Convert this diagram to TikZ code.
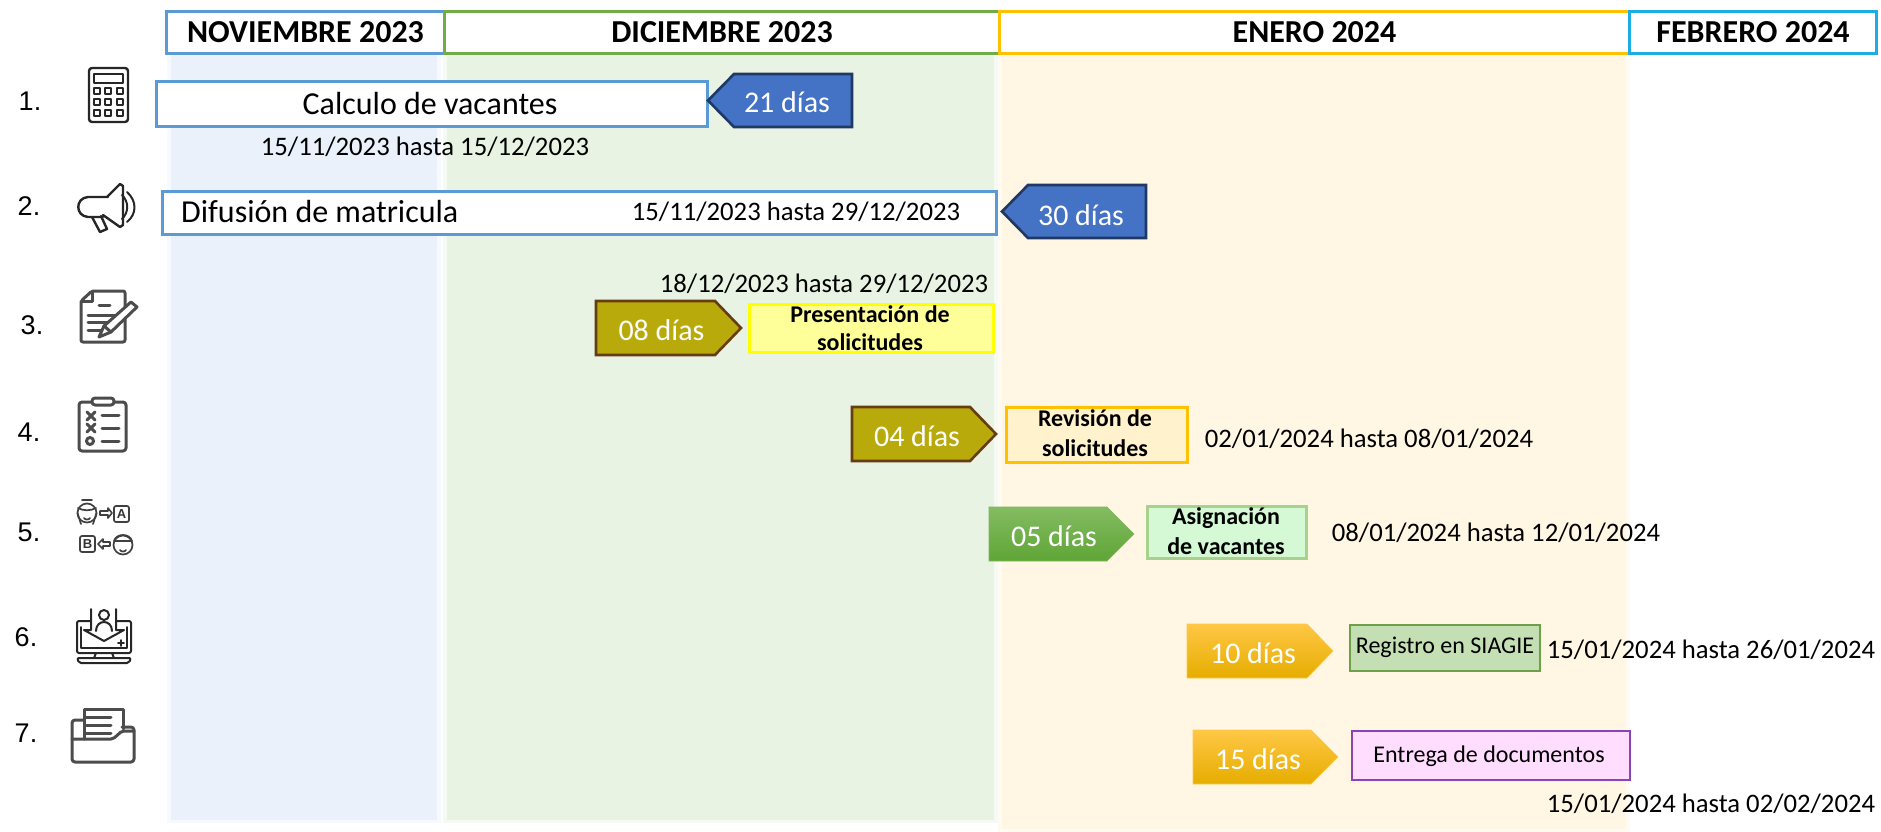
\documentclass[tikz,border=0pt]{standalone}
\usepackage{fontspec}
\setmainfont{Carlito}
\newfontfamily\arialf{Liberation Sans}
\newcommand{\fs}[1]{\fontsize{#1}{#1}\selectfont}
\tikzset{
  hdr/.style={draw=#1,line width=3pt,fill=white,inner sep=0pt,font=\fs{32}\bfseries,text=black},
  datet/.style={font=\fs{26.7},text=black,inner sep=0pt},
  numt/.style={font=\arialf\fs{27},text=black,inner sep=0pt},
  barbox/.style={draw=#1,line width=3pt,fill=white},
  daytxt/.style={font=\fs{30},text=white,inner sep=0pt},
  lbl/.style={font=\fs{24}\bfseries,text=black,align=center,inner sep=0pt},
  lbln/.style={font=\fs{24},text=black,align=center,inner sep=0pt},
  big/.style={font=\fs{32},text=black,inner sep=0pt},
  ic/.style={draw=#1,line width=2.4pt,line join=round,line cap=round},
  ic/.default={black!78},
  olive/.style={fill=olive1,draw=olive2,line width=2.6pt},
  navy/.style={fill=blue1,draw=blue2,line width=2.6pt},
  greeng/.style={top color=green1,bottom color=green2,draw=green2!80,line width=.6pt},
  goldg/.style={top color=gold1,middle color=gold2,bottom color=gold3,draw=gold1,line width=.6pt},
}
\definecolor{nov}{HTML}{5B9BD5}\definecolor{dic}{HTML}{70AD47}
\definecolor{ene}{HTML}{FFC000}\definecolor{feb}{HTML}{1CADE4}
\definecolor{bn}{HTML}{EAF1FA}\definecolor{bd}{HTML}{E8F3E3}\definecolor{be}{HTML}{FFF7E3}
\definecolor{olive1}{HTML}{B8AA0B}\definecolor{olive2}{HTML}{663C10}
\definecolor{blue1}{HTML}{4472C4}\definecolor{blue2}{HTML}{1F3864}
\definecolor{green1}{HTML}{84BC62}\definecolor{green2}{HTML}{5FA536}
\definecolor{gold1}{HTML}{FFC745}\definecolor{gold2}{HTML}{FFC300}\definecolor{gold3}{HTML}{E6AD00}
\definecolor{yb}{HTML}{FFFF00}\definecolor{yf}{HTML}{FFFF99}
\definecolor{of}{HTML}{FFF2CC}
\definecolor{gb}{HTML}{A9D18E}\definecolor{gf}{HTML}{D5F9D5}
\definecolor{sb}{HTML}{6EA04A}\definecolor{sf}{HTML}{C5DFB4}
\definecolor{vb}{HTML}{8A45B5}\definecolor{vf}{HTML}{FFDDFF}
% right-pointing tag: #1 name, #2 x0, #3 xshoulder, #4 tip, #5 y0, #6 y1, #7 style, #8 text
\newcommand{\tagr}[8]{\path[#7] (#2,#5) -- (#3,#5) -- (#4,{(#5+#6)/2}) -- (#3,#6) -- (#2,#6) -- cycle;
  \node[daytxt] (#1) at ({(#2+#3)/2+6},{(#5+#6)/2+2}) {#8};}
\newcommand{\band}[5]{\fill[#5!45!white] (#1-4,#3) rectangle (#2+4,#4+3);\fill[#5] (#1,#3) rectangle (#2,#4);}
% #1 name, #2 x0, #3 x1, #4 y0, #5 y1, #6 border, #7 fill, #8 width
\newcommand{\boxn}[8]{\node[draw=#6,fill=#7,line width=#8,minimum width=#3-#2,minimum height=#5-#4,inner sep=0pt,anchor=north west] (#1) at (#2,#4) {};}
\begin{document}
\begin{tikzpicture}[x=1pt,y=-1pt]
\useasboundingbox (0,0) rectangle (1881,832);
\band{171}{437}{52}{820}{bn}
\band{447}{994}{52}{820}{bd}
\band{1002}{1626}{52}{829}{be}
% headers
\node[hdr=nov,minimum width=278,minimum height=42,anchor=north west] (h1) at (165,10) {NOVIEMBRE 2023};
\node[hdr=dic,minimum width=555,minimum height=42,anchor=north west] (h2) at (443,10) {DICIEMBRE 2023};
\node[hdr=ene,minimum width=630,minimum height=42,anchor=north west] (h3) at (998,10) {ENERO 2024};
\node[hdr=feb,minimum width=247,minimum height=42,anchor=north west] (h4) at (1628,10) {FEBRERO 2024};
% row 1
\node[barbox=nov,minimum width=551,minimum height=45,inner sep=0pt,anchor=north west] (b1) at (155,80) {};
\node[big] (t1) at (430,104) {Calculo de vacantes};
\path[navy] (852,74) -- (734,74) -- (708,100.5) -- (734,127) -- (852,127) -- cycle;
\node[daytxt] (d1) at (787,102) {21 días};
\node[datet] (r1) at (425,147) {15/11/2023 hasta 15/12/2023};
% row 2
\node[barbox=nov,minimum width=834,minimum height=43,inner sep=0pt,anchor=north west] (b2) at (161,190) {};
\node[big,anchor=west] (t2) at (181,212) {Difusión de matricula};
\node[datet] (r2) at (796,212) {15/11/2023 hasta 29/12/2023};
\path[navy] (1146,185) -- (1028,185) -- (1002,211.5) -- (1028,238) -- (1146,238) -- cycle;
\node[daytxt] (d2) at (1081,215) {30 días};
% row 3
\node[datet] (r3) at (824,284) {18/12/2023 hasta 29/12/2023};
\tagr{d3}{596}{715}{741}{301}{355}{olive}{08 días}
\boxn{b3}{748}{992}{303}{351}{yb}{yf}{3pt}
\node[lbl] (t3a) at (870,314) {Presentación de};
\node[lbl] (t3b) at (870,342) {solicitudes};
% row 4
\tagr{d4}{852}{970}{996}{407}{461}{olive}{04 días}
\boxn{b4}{1005}{1186}{406}{461}{ene}{of}{3pt}
\node[lbl] (t4a) at (1095,418) {Revisión de};
\node[lbl] (t4b) at (1095,448) {solicitudes};
\node[datet] (r4) at (1369,439) {02/01/2024 hasta 08/01/2024};
% row 5
\tagr{d5}{989}{1107}{1134}{507}{561}{greeng}{05 días}
\boxn{b5}{1146}{1305}{505}{557}{gb}{gf}{3pt}
\node[lbl] (t5a) at (1226,518) {Asignación};
\node[lbl] (t5b) at (1226,546) {de vacantes};
\node[datet] (r5) at (1496,533) {08/01/2024 hasta 12/01/2024};
% row 6
\tagr{d6}{1187}{1307}{1333}{624}{678}{goldg}{10 días}
\boxn{b6}{1349}{1539}{624}{670}{sb}{sf}{1.6pt}
\node[lbln] (t6) at (1445,647) {Registro en SIAGIE};
\node[datet] (r6) at (1711,650) {15/01/2024 hasta 26/01/2024};
% row 7
\tagr{d7}{1193}{1311}{1338}{730}{784}{goldg}{15 días}
\boxn{b7}{1351}{1629}{730}{779}{vb}{vf}{1.6pt}
\node[lbln] (t7) at (1489,756) {Entrega de documentos};
\node[datet] (r7) at (1711,804) {15/01/2024 hasta 02/02/2024};
% numbers
\node[numt] (n1) at (30,101) {1.};
\node[numt] (n2) at (29,206) {2.};
\node[numt] (n3) at (32,325) {3.};
\node[numt] (n4) at (29,432) {4.};
\node[numt] (n5) at (29,532) {5.};
\node[numt] (n6) at (26,637) {6.};
\node[numt] (n7) at (26,733) {7.};
% icon 1 calculator
\draw[ic=black!85,rounded corners=3pt] (89,68) rectangle (128,122);
\draw[ic=black!85,line width=2pt] (94,74) rectangle (123,83);
\foreach \x in {97,108,120}\foreach \y in {91,102,113}\draw[ic=black!85,line width=2pt] (\x-3,\y-3) rectangle (\x+3,\y+3);
% icon 2 megaphone
\draw[ic=black!85] (108,197) -- (88,197) .. controls (75,198) and (75,216) .. (88,217) -- (103,217);
\draw[ic=black!85] (107,197) -- (120,184) -- (123,186) -- (123,225) -- (120,227) -- (103,215);
\draw[ic=black!85] (92,217) -- (100,232) -- (107,229) -- (101,216);
\draw[ic=black!85,line width=2pt] (122,195) .. controls (129,202) and (129,212) .. (122,219);
\draw[ic=black!85,line width=2pt] (127,192) .. controls (137,201) and (137,214) .. (127,222);
% icon 3 document and pencil
\begin{scope}[line width=3pt]
\draw[ic=black!70,line width=3pt,rounded corners=2pt] (92,291) -- (125,291) -- (125,342) -- (81,342) -- (81,301) -- cycle;
\draw[ic=black!70,line width=3pt] (92,291) -- (92,301) -- (81,301);
\draw[ic=black!70,line width=3pt] (99,305) -- (110,305) (88,315) -- (115,315) (88,322) -- (110,322) (88,330) -- (101,330);
\path[ic=black!70,line width=3pt,fill=white] (99,337) -- (104,326) -- (131,302) -- (137,307) -- (111,332) -- cycle;
\draw[ic=black!70,line width=3pt] (104,326) -- (111,332);
\end{scope}
% icon 4 clipboard
\draw[ic=black!70,line width=3pt,rounded corners=3pt] (79,402) rectangle (126,451);
\draw[ic=black!70,line width=3pt,fill=white,rounded corners=3pt] (92,398) rectangle (114,405);
\draw[ic=black!70,line width=3pt] (87,412) -- (95,420) (95,412) -- (87,420) (87,424) -- (95,432) (95,424) -- (87,432);
\draw[ic=black!70,line width=3pt] (90,441) circle (3.5);
\draw[ic=black!70,line width=3pt] (102,415) -- (119,415) (102,428) -- (119,428) (102,441) -- (119,441);
% icon 5 faces and letters
\draw[ic=black!75,line width=1.7pt] (87,513) circle (9.5);
\draw[ic=black!75,line width=1.7pt] (82,500) -- (92,500) (78,508) .. controls (83,511) and (91,511) .. (96,508);
\draw[ic=black!75,line width=1.7pt] (77.5,513) -- (81,524) (96.5,513) -- (93,524);
\draw[ic=black!75,line width=1.7pt] (84,518) .. controls (85,520) and (89,520) .. (90,518);
\draw[ic=black!75,line width=1.7pt,rounded corners=2pt] (114,506) rectangle (129,522);
\draw[ic=black!75,line width=1.6pt] (100,511) -- (108,511) -- (108,508) -- (112,513) -- (108,518) -- (108,515) -- (100,515) -- cycle;
\node[font=\arialf\fs{13}\bfseries,text=black!80,inner sep=0pt] (la) at (121.5,514) {A};
\draw[ic=black!75,line width=1.7pt,rounded corners=2pt] (80,536) rectangle (95,552);
\node[font=\arialf\fs{13}\bfseries,text=black!80,inner sep=0pt] (lb) at (87.5,544) {B};
\draw[ic=black!75,line width=1.6pt] (110,542) -- (103,542) -- (103,539) -- (98,544) -- (103,549) -- (103,546) -- (110,546) -- cycle;
\draw[ic=black!75,line width=1.7pt] (123,545) circle (9.5);
\draw[ic=black!75,line width=1.7pt] (114,541) .. controls (116,533) and (130,533) .. (132,541);
\draw[ic=black!75,line width=1.7pt] (115,541) -- (131,541);
\draw[ic=black!75,line width=1.7pt] (120,550) .. controls (121,552) and (125,552) .. (126,550);
% icon 6 monitor
\draw[ic=black!85,line width=2pt,rounded corners=2pt] (90,621) -- (77,621) -- (77,653) -- (131,653) -- (131,621) -- (117,621);
\draw[ic=black!85,line width=2pt] (81,627) -- (81,648) -- (127,648) -- (127,627);
\draw[ic=black!85,line width=2pt] (91,609) -- (91,630) -- (84,630) -- (104,641) -- (124,630) -- (116,630) -- (116,609);
\draw[ic=black!85,line width=2pt] (104,615) circle (5);
\draw[ic=black!85,line width=2pt] (96,631) .. controls (96,619) and (112,619) .. (112,631);
\draw[ic=black!85,line width=2pt] (96,653) -- (94,658) (112,653) -- (114,658);
\draw[ic=black!85,line width=2pt,rounded corners=2pt] (77,658) -- (131,658) -- (129,663) -- (79,663) -- cycle;
\draw[ic=black!85,line width=1.6pt] (118,643) -- (124,643) (121,640) -- (121,646);
% icon 7 folder
\draw[ic=black!70,line width=3pt,rounded corners=3pt] (83,720) -- (72,720) -- (72,762) -- (134,762) -- (134,727) -- (122,727);
\draw[ic=black!70,line width=3pt,rounded corners=2pt] (72,739) -- (113,739) -- (122,731) -- (134,731);
\draw[ic=black!70,line width=3pt] (84,739) -- (84,709) -- (123,709) -- (123,729);
\draw[ic=black!70,line width=3pt] (85,717) -- (111,717) (85,725) -- (111,725) (85,733) -- (111,733);
\end{tikzpicture}
\end{document}
